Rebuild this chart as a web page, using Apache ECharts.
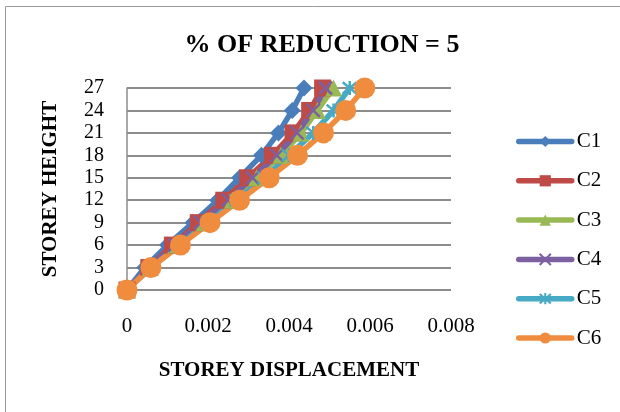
<!DOCTYPE html>
<html>
<head>
<meta charset="utf-8">
<script src="https://cdn.jsdelivr.net/npm/echarts@6/dist/echarts.min.js"></script>
<style>
html,body{margin:0;padding:0;background:#fff;}
#chart{width:620px;height:412px;}
</style>
</head>
<body>
<div id="chart"></div>
<script>
var heights = [0, 3, 6, 9, 12, 15, 18, 21, 24, 27];
var seriesNames = ['C1', 'C2', 'C3', 'C4', 'C5', 'C6'];
var c1 = [0, 0.00044, 0.0010, 0.00163, 0.00224, 0.00278, 0.00332, 0.00374, 0.00408, 0.00437];
var c2 = [0, 0.00054, 0.00112, 0.00176, 0.00239, 0.00298, 0.00359, 0.0041, 0.00451, 0.00483];
var c3 = [0, 0.00057, 0.0012, 0.0019, 0.0026, 0.0032, 0.0038, 0.0043, 0.0047, 0.0051];
var c4 = [0, 0.00055, 0.00118, 0.00182, 0.0025, 0.0031, 0.0037, 0.0042, 0.0046, 0.0049];
var c5 = [0, 0.0006, 0.00128, 0.0020, 0.0027, 0.0034, 0.0040, 0.0046, 0.0051, 0.0055];
var c6 = [0, 0.00059, 0.00132, 0.00205, 0.00278, 0.00351, 0.00421, 0.00485, 0.0054, 0.00587];
var xTicks = [0, 0.002, 0.004, 0.006, 0.008];

var colors = ['#4A7EBB', '#BE4B48', '#98B954', '#7D60A0', '#46AAC5', '#F08C3E'];
var values = [c1, c2, c3, c4, c5, c6];
var symbols = [
  'diamond',
  'rect',
  'triangle',
  'path://M0,0L10,10M10,0L0,10',
  'path://M0,0L10,10M10,0L0,10M5,-1L5,11',
  'circle'
];
var symbolSizes = [17, 17, 17, 13, 14, 21];

var font = 'Liberation Serif, Times New Roman, serif';

var series = seriesNames.map(function (name, i) {
  var isPath = i === 3 || i === 4;
  return {
    name: name,
    type: 'line',
    data: values[i].map(function (v, j) { return [v, heights[j]]; }),
    symbol: symbols[i],
    symbolSize: symbolSizes[i],
    showSymbol: true,
    lineStyle: { color: colors[i], width: 5.5 },
    itemStyle: isPath
      ? { color: colors[i], borderColor: colors[i], borderWidth: 2.5 }
      : { color: colors[i] },
    emphasis: { disabled: true },
    animation: false
  };
});

var chart = echarts.init(document.getElementById('chart'), null, { renderer: 'canvas' });
chart.setOption({
  backgroundColor: '#ffffff',
  animation: false,
  title: {
    text: '% OF REDUCTION = 5',
    left: 317,
    textAlign: 'center',
    top: 27,
    textStyle: { fontFamily: font, fontWeight: 'bold', fontSize: 26, color: '#000' }
  },
  graphic: [{
    type: 'rect',
    shape: { x: 5.5, y: 6.5, width: 640, height: 420 },
    style: { fill: 'none', stroke: '#9a9a9a', lineWidth: 1 },
    silent: true
  }],
  grid: { left: 127, right: 169, top: 88, bottom: 122, containLabel: false },
  legend: {
    orient: 'vertical',
    left: 511,
    top: 126,
    itemWidth: 53,
    itemHeight: 14,
    itemGap: 18.3,
    lineStyle: { width: 5.5, cap: 'round' },
    textStyle: { fontFamily: font, fontSize: 21, color: '#000', lineHeight: 20 },
    data: seriesNames
  },
  xAxis: {
    type: 'value',
    min: 0,
    max: 0.008,
    interval: 0.002,
    name: 'STOREY DISPLACEMENT',
    nameLocation: 'middle',
    nameGap: 70,
    nameTextStyle: { fontFamily: font, fontWeight: 'bold', fontSize: 21, color: '#000' },
    axisLine: { show: false },
    axisTick: { show: false },
    splitLine: { show: false },
    axisLabel: {
      margin: 26,
      fontFamily: font, fontSize: 21, color: '#000',
      formatter: function (v) {
        for (var k = 0; k < xTicks.length; k++) {
          if (Math.abs(xTicks[k] - v) < 1e-9) return String(xTicks[k]);
        }
        return '';
      }
    }
  },
  yAxis: {
    type: 'value',
    min: 0,
    max: 27,
    interval: 3,
    name: 'STOREY HEIGHT',
    nameLocation: 'middle',
    nameGap: 66,
    nameRotate: 90,
    nameTextStyle: { fontFamily: font, fontWeight: 'bold', fontSize: 21, color: '#000' },
    axisLine: { show: true, lineStyle: { color: '#8c8c8c', width: 1.5 } },
    axisTick: { show: false },
    splitLine: { show: true, lineStyle: { color: '#8c8c8c', width: 2 } },
    axisLabel: { margin: 23, fontFamily: font, fontSize: 20, color: '#000' }
  },
  series: series
});
</script>
</body>
</html>
